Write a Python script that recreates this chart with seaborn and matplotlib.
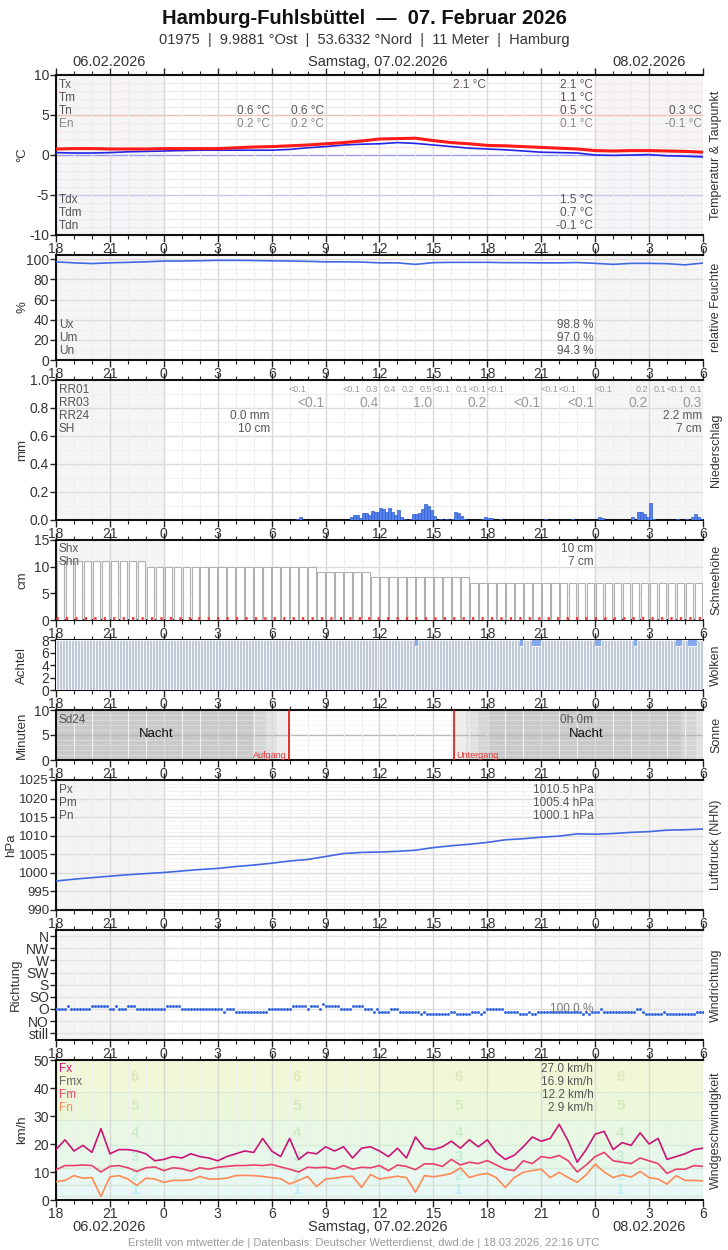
import matplotlib
matplotlib.use("Agg")
import matplotlib.pyplot as plt
import seaborn as sns

sns.set_theme(style="white")
NARROW = ['Liberation Sans Narrow', 'Liberation Sans', 'DejaVu Sans']
REGULAR = ['Liberation Sans', 'DejaVu Sans']
plt.rcParams['font.family'] = NARROW
plt.rcParams['axes.unicode_minus'] = False

# ---------------- data (x = hours since 06.02.2026 18:00 UTC) ----------------
uhr_labels = ['18', '21', '0', '3', '6', '9', '12', '15', '18', '21', '0', '3', '6']
stunden = list(range(37))
halbstunden = [h / 2 for h in range(73)]

temperatur = [0.75, 0.8, 0.8, 0.75, 0.75, 0.75, 0.8, 0.8, 0.8, 0.8, 0.9, 1.0, 1.05,
              1.15, 1.25, 1.4, 1.55, 1.75, 2.0, 2.05, 2.1, 1.8, 1.55, 1.4, 1.2,
              1.15, 1.05, 0.95, 0.85, 0.75, 0.55, 0.5, 0.55, 0.55, 0.5, 0.45, 0.35]
taupunkt = [0.3, 0.25, 0.25, 0.3, 0.4, 0.45, 0.5, 0.55, 0.6, 0.6, 0.6, 0.6, 0.6,
            0.7, 0.9, 1.05, 1.25, 1.35, 1.4, 1.55, 1.45, 1.25, 1.05, 0.85, 0.75,
            0.65, 0.5, 0.35, 0.3, 0.25, 0.0, -0.05, 0.0, 0.05, -0.1, -0.15, -0.25]
feuchte = [97.5, 96.5, 95.8, 96.5, 97.0, 97.5, 98.3, 98.3, 98.6, 99.0, 99.0, 98.8,
           98.5, 98.3, 98.0, 97.5, 97.5, 97.3, 96.5, 96.5, 95.0, 96.7, 97.0, 97.0,
           97.0, 96.7, 96.7, 96.5, 96.5, 96.8, 96.0, 95.0, 96.0, 96.0, 95.7, 94.5, 96.3]

# precipitation, 10-minute slots
rr_slot = [80, 81, 98, 99, 100, 101, 102, 103, 104, 105, 106, 107, 108, 109, 110,
           111, 112, 113, 114, 115, 116, 118, 119, 120, 121, 122, 123, 124, 125,
           126, 128, 130, 132, 133, 134, 135, 136, 142, 143, 144, 145, 148, 163,
           172, 181, 182, 192, 194, 195, 196, 197, 198, 199, 207, 210, 212, 213,
           214, 215]
rr_mm = [0.01, 0.02, 0.024, 0.033, 0.033, 0.012, 0.047, 0.052, 0.036, 0.064, 0.055,
         0.06, 0.083, 0.076, 0.06, 0.083, 0.055, 0.036, 0.07, 0.024, 0.01, 0.008,
         0.043, 0.043, 0.052, 0.078, 0.114, 0.1, 0.07, 0.028, 0.01, 0.01, 0.01,
         0.06, 0.05, 0.03, 0.01, 0.01, 0.024, 0.015, 0.012, 0.01, 0.01, 0.01,
         0.024, 0.012, 0.02, 0.06, 0.06, 0.043, 0.024, 0.124, 0.01, 0.01, 0.01,
         0.02, 0.04, 0.024, 0.01]
rr01_stunde = [14, 17, 18, 19, 20, 21, 22, 23, 24, 25, 28, 29, 31, 33, 34, 35, 36]
rr01_text = ['<0.1', '<0.1', '0.3', '0.4', '0.2', '0.5', '<0.1', '0.1', '<0.1', '<0.1',
             '<0.1', '<0.1', '<0.1', '0.2', '0.1', '<0.1', '0.1']
rr03_stunde = [15, 18, 21, 24, 27, 30, 33, 36]
rr03_text = ['<0.1', '0.4', '1.0', '0.2', '<0.1', '<0.1', '0.2', '0.3']

# snow depth, half-hour slots
schnee = [11] * 10 + [10] * 19 + [9] * 6 + [8] * 11 + [7] * 26

# cloud cover, 10-minute slots (octas)
wolken = [8] * 216
wolken_7_slots = [120, 155, 159, 160, 161, 180, 181, 193, 207, 208, 211, 212, 213]

# sun
aufgang = 12.97
untergang = 22.15
morgen_grenzen = [10.97, 11.66, 12.30, 12.97]
abend_grenzen = [22.15, 22.84, 23.48, 24.13]
morgen2_grenzen = [34.79, 35.60]

druck = [997.8, 998.3, 998.7, 999.1, 999.5, 999.8, 1000.1, 1000.5, 1000.9, 1001.2,
         1001.7, 1002.1, 1002.6, 1003.2, 1003.6, 1004.4, 1005.2, 1005.5, 1005.6,
         1005.8, 1006.1, 1006.8, 1007.3, 1007.7, 1008.2, 1008.9, 1009.2, 1009.6,
         1009.9, 1010.5, 1010.4, 1010.6, 1010.9, 1011.1, 1011.5, 1011.6, 1011.8]

# wind direction in degrees, 10-minute slots
richtung = ([90] * 4 + [100] + [90] * 7 + [100] * 6 + [90] * 2 + [100] + [90] * 3 +
            [100] * 3 + [90] * 10 + [100] * 5 + [90] * 14 + [80] + [90] * 3 +
            [80] * 11 + [90] * 8 + [100] * 5 + [90] + [100] * 3 + [90] + [110] +
            [100] * 5 + [90] * 4 + [100] * 4 + [90] * 3 + [80] + [90] + [80] * 4 +
            [90] * 3 + [80] * 7 + [70] + [80] + [70] * 8 + [80] * 2 + [70] * 5 +
            [80] * 3 + [70] + [80] + [90] * 6 + [80] * 5 + [70] * 3 + [80] +
            [70] * 2 + [80] * 15 + [70] + [80] + [70] + [80] * 3 + [90] + [80] * 11 +
            [90] * 2 + [80] + [70] * 6 + [80] + [70] * 10 + [80] * 3)
richtung_labels = ['still', 'NO', 'O', 'SO', 'S', 'SW', 'W', 'NW', 'N']

# wind speed (km/h), half-hour values
boeen = [18.0, 21.5, 17.5, 19.5, 17.0, 25.5, 16.5, 18.0, 18.0, 17.5,
         16.5, 14.0, 14.5, 15.5, 15.0, 16.5, 15.5, 15.0, 14.0, 15.5,
         16.5, 17.5, 17.0, 22.0, 17.5, 15.5, 22.0, 14.5, 17.0, 16.5,
         19.0, 17.5, 19.0, 15.0, 18.5, 19.0, 17.5, 15.5, 18.5, 15.0,
         22.5, 18.5, 18.0, 19.0, 21.0, 18.5, 21.5, 19.0, 21.5, 17.0,
         14.5, 16.0, 19.0, 22.5, 21.0, 22.0, 27.0, 21.0, 13.5, 18.0,
         23.5, 24.5, 18.0, 20.5, 19.5, 24.0, 20.0, 22.0, 14.5, 15.5,
         16.5, 18.0, 18.5]
wind_mittel = [10.8, 12.3, 12.3, 12.5, 12.3, 10.0, 12.0, 12.3, 11.5, 10.2,
               11.5, 11.8, 10.5, 11.5, 11.2, 10.3, 11.5, 11.0, 11.7, 12.0,
               12.3, 12.3, 12.5, 12.3, 12.7, 11.8, 11.0, 10.0, 11.7, 11.5,
               11.7, 11.0, 12.3, 11.0, 11.7, 11.5, 12.3, 10.5, 12.5, 12.0,
               10.8, 12.9, 12.9, 12.0, 14.5, 12.5, 13.5, 13.0, 14.1, 12.5,
               11.0, 10.5, 14.0, 13.0, 15.5, 15.0, 15.9, 14.0, 10.0, 12.5,
               15.5, 17.0, 14.0, 13.5, 13.0, 15.0, 14.0, 13.0, 9.5, 11.0,
               11.0, 12.3, 12.0]
wind_min = [6.5, 7.0, 8.7, 7.8, 8.0, 1.3, 8.3, 8.7, 7.5, 5.2,
            7.8, 7.5, 6.3, 7.0, 7.0, 7.2, 8.4, 7.5, 7.5, 7.8,
            8.7, 8.8, 8.7, 8.4, 8.0, 7.6, 5.7, 7.0, 8.4, 4.8,
            7.5, 7.8, 8.3, 8.5, 4.5, 9.1, 7.5, 8.0, 8.5, 8.0,
            2.8, 8.7, 8.3, 8.8, 9.5, 11.5, 8.0, 9.0, 9.5, 8.0,
            4.5, 8.0, 9.9, 10.5, 11.0, 8.0, 9.9, 8.0, 6.3, 9.0,
            12.8, 10.0, 8.0, 9.0, 8.2, 10.2, 8.0, 7.5, 5.7, 8.7,
            7.0, 7.0, 6.8]
bft_grenzen = [0, 1.5, 5.5, 11.5, 19.5, 28.5, 38.5, 50]
bft_farben = ['#eefafa', '#e8f8f8', '#e6f8f1', '#e7f8ea', '#e8f8e2', '#ecf7da', '#f1f8d8']
bft_zahl_farben = ['#bfeef2', '#c4ede8', '#c6ecd6', '#cdebc8', '#d6e8bd', '#dde8bd']

# ---------------- layout ----------------
W, H = 728, 1250
L, R = 56, 703
fig = plt.figure(figsize=(W / 100, H / 100), dpi=100)


def panel(top, bottom, night=True):
    ax = fig.add_axes([L / W, 1 - bottom / H, (R - L) / W, (bottom - top) / H])
    ax.set_xlim(0, 36)
    ax.set_xticks(range(0, 37, 3))
    ax.set_xticklabels(uhr_labels)
    ax.set_xticks(range(37), minor=True)
    ax.tick_params(axis='x', which='both', direction='out', top=True, bottom=True,
                   labeltop=False, color='#222', labelcolor='#333', labelsize=10, pad=0)
    ax.tick_params(axis='x', which='major', length=5, width=1)
    ax.tick_params(axis='x', which='minor', length=3, width=0.8)
    ax.tick_params(axis='y', which='major', direction='out', left=True, length=4,
                   width=1, color='#222', labelcolor='#333', labelsize=10, pad=1)
    ax.tick_params(axis='y', which='minor', left=False, length=0)
    for s in ['top', 'bottom', 'left']:
        ax.spines[s].set_color('#111')
        ax.spines[s].set_linewidth(1.5)
    ax.spines['right'].set_visible(False)
    ax.set_axisbelow(True)
    ax.grid(which='major', axis='x', color='#d9d9d9', lw=1, zorder=0.5)
    ax.grid(which='minor', axis='x', color='#efefef', lw=0.8, zorder=0.5)
    if night:
        ax.axvspan(0, 6, color='#f5f5f5', zorder=0.1, lw=0)
        ax.axvspan(30, 36, color='#f5f5f5', zorder=0.1, lw=0)
    cy = 1 - (top + bottom) / 2 / H
    return ax, cy, bottom - top


def side_labels(cy, left, right, lx=22):
    fig.text(lx / W, cy, left, rotation=90, ha='center', va='center',
             fontsize=9.5, color='#333', family=REGULAR)
    fig.text(716 / W, cy, right, rotation=90, ha='center', va='center',
             fontsize=9, color='#333', family=REGULAR)


def stat(ax, ph, x, dy, text, color='#555', ha='right', size=8.5):
    ax.text(x, 1 - dy / ph, text, transform=ax.get_xaxis_transform(), ha=ha,
            va='center', fontsize=size, color=color, zorder=6)


def hgrid(ax, major, minor=None, cmaj='#dcdcdc', cmin='#f0f0f0', amin=1.0):
    if minor is not None:
        for y in minor:
            ax.axhline(y, color=cmin, lw=0.8, zorder=0.4, alpha=amin)
    for y in major:
        ax.axhline(y, color=cmaj, lw=1, zorder=0.5)


# titles
fig.text(0.5, 1 - 18 / H, 'Hamburg-Fuhlsbüttel  —  07. Februar 2026', ha='center',
         va='center', fontsize=14.5, fontweight='bold', color='#111')
fig.text(0.5, 1 - 40 / H, '01975  |  9.9881 °Ost  |  53.6332 °Nord  |  11 Meter  |  Hamburg',
         ha='center', va='center', fontsize=10.5, color='#333')
for yy in [62, 1227]:
    fig.text(109 / W, 1 - yy / H, '06.02.2026', ha='center', va='center', fontsize=10.5, color='#333')
    fig.text(378 / W, 1 - yy / H, 'Samstag, 07.02.2026', ha='center', va='center', fontsize=10.5, color='#333')
    fig.text(649 / W, 1 - yy / H, '08.02.2026', ha='center', va='center', fontsize=10.5, color='#333')
fig.text(0.5, 1 - 1243 / H, 'Erstellt von mtwetter.de | Datenbasis: Deutscher Wetterdienst, '
         'dwd.de | 18.03.2026, 22:16 UTC', ha='center', va='center', fontsize=8, color='#999')

# 1 temperature
ax, cy, ph = panel(75, 235)
ax.set_ylim(-10, 10)
ax.set_yticks([-10, -5, 0, 5, 10])
for y in range(-10, 11):
    if y in (-5, 5):
        c = '#f3bcbc' if y > 0 else '#c4c4f2'
    elif y == 0:
        c = '#9a9aee'
    else:
        c = '#fbe6e6' if y > 0 else '#e8e8fb'
    ax.axhline(y, color=c, lw=1 if y % 5 == 0 else 0.8, zorder=0.5)
sns.lineplot(x=stunden, y=taupunkt, ax=ax, color='#2424e6', lw=1.2, zorder=3)
sns.lineplot(x=stunden, y=temperatur, ax=ax, color='#ff1a1a', lw=2.2, zorder=4)
for dy, lab in zip([10, 23, 36, 49], ['Tx', 'Tm', 'Tn', 'En']):
    stat(ax, ph, 0.15, dy, lab, color='#888' if lab == 'En' else '#555', ha='left')
for dy, lab in zip([125, 138, 151], ['Tdx', 'Tdm', 'Tdn']):
    stat(ax, ph, 0.15, dy, lab, ha='left')
for x in [12, 15]:
    stat(ax, ph, x - 0.1, 36, '0.6 °C')
    stat(ax, ph, x - 0.1, 49, '0.2 °C', color='#888')
stat(ax, ph, 23.9, 10, '2.1 °C')
for dy, v in zip([10, 23, 36], ['2.1 °C', '1.1 °C', '0.5 °C']):
    stat(ax, ph, 29.9, dy, v)
stat(ax, ph, 29.9, 49, '0.1 °C', color='#888')
for dy, v in zip([125, 138, 151], ['1.5 °C', '0.7 °C', '-0.1 °C']):
    stat(ax, ph, 29.9, dy, v)
stat(ax, ph, 35.95, 36, '0.3 °C')
stat(ax, ph, 35.95, 49, '-0.1 °C', color='#888')
side_labels(cy, '°C', 'Temperatur & Taupunkt')

# 2 humidity
ax, cy, ph = panel(255, 360)
ax.set_ylim(0, 104.3)
ax.set_yticks(range(0, 101, 20))
hgrid(ax, range(0, 101, 20), range(10, 101, 20))
sns.lineplot(x=stunden, y=feuchte, ax=ax, color='#4169e1', lw=1.2, zorder=3)
for dy, lab, v in zip([70, 83, 96], ['Ux', 'Um', 'Un'], ['98.8 %', '97.0 %', '94.3 %']):
    stat(ax, ph, 0.15, dy, lab, ha='left')
    stat(ax, ph, 29.9, dy, v)
side_labels(cy, '%', 'relative Feuchte')

# 3 precipitation
ax, cy, ph = panel(380, 520)
ax.set_ylim(0, 1.0)
ax.set_yticks([0, 0.2, 0.4, 0.6, 0.8, 1.0])
ax.set_yticklabels(['0.0', '0.2', '0.4', '0.6', '0.8', '1.0'])
hgrid(ax, [0.2, 0.4, 0.6, 0.8], [0.1, 0.3, 0.5, 0.7, 0.9])
ax.bar([s / 6 for s in rr_slot], rr_mm, width=1 / 6, align='edge', color='#5582ea',
       edgecolor='#2f5bd0', lw=0.5, zorder=3)
for dy, lab in zip([10, 23, 36, 49], ['RR01', 'RR03', 'RR24', 'SH']):
    stat(ax, ph, 0.15, dy, lab, ha='left')
for x, t in zip(rr01_stunde, rr01_text):
    stat(ax, ph, x - 0.05, 10, t, color='#999', size=6.5)
for x, t in zip(rr03_stunde, rr03_text):
    stat(ax, ph, x - 0.05, 23, t, color='#999', size=10)
stat(ax, ph, 11.9, 36, '0.0 mm')
stat(ax, ph, 11.9, 49, '10 cm')
stat(ax, ph, 35.95, 36, '2.2 mm')
stat(ax, ph, 35.95, 49, '7 cm')
side_labels(cy, 'mm', 'Niederschlag')

# 4 snow depth
ax, cy, ph = panel(540, 620)
ax.set_ylim(0, 15)
ax.set_yticks([0, 5, 10, 15])
hgrid(ax, [5, 10])
ax.bar([h + 0.25 for h in halbstunden[:72]], schnee, width=0.42, color='white',
       edgecolor='#b0b0b0', lw=0.8, zorder=3)
ax.axhline(0.45, color='#ff3030', lw=2, ls=(0, (0.8, 2.6)), zorder=4)
stat(ax, ph, 0.15, 9, 'Shx', ha='left')
stat(ax, ph, 0.15, 22, 'Shn', ha='left')
stat(ax, ph, 29.9, 9, '10 cm')
stat(ax, ph, 29.9, 22, '7 cm')
side_labels(cy, 'cm', 'Schneehöhe')

# 5 clouds
ax, cy, ph = panel(640, 690, night=False)
ax.set_ylim(0, 8)
ax.set_yticks([0, 2, 4, 6, 8])
werte = [7 if i in wolken_7_slots else w for i, w in enumerate(wolken)]
ax.bar([i / 6 for i in range(216)], werte, width=1 / 6, align='edge', color='#bec6d4',
       edgecolor='#f3f5fa', lw=0.8, zorder=3)
ax.bar([i / 6 for i in wolken_7_slots], [8 - werte[i] for i in wolken_7_slots],
       bottom=[werte[i] for i in wolken_7_slots], width=1 / 6, align='edge',
       color='#86a8ee', lw=0, zorder=3)
side_labels(cy, 'Achtel', 'Wolken')

# 6 sun
ax, cy, ph = panel(710, 760, night=False)
ax.set_ylim(0, 10)
ax.set_yticks([0, 5, 10])
grau = ['#c9c9c9', '#d5d5d5', '#e1e1e1', '#eeeeee']
ax.axvspan(0, morgen_grenzen[0], color=grau[0], lw=0, zorder=0.1)
for i in range(3):
    ax.axvspan(morgen_grenzen[i], morgen_grenzen[i + 1], color=grau[i + 1], lw=0, zorder=0.1)
    ax.axvspan(abend_grenzen[i], abend_grenzen[i + 1], color=grau[3 - i], lw=0, zorder=0.1)
ax.axvspan(abend_grenzen[3], morgen2_grenzen[0], color=grau[0], lw=0, zorder=0.1)
ax.axvspan(morgen2_grenzen[0], morgen2_grenzen[1], color=grau[1], lw=0, zorder=0.1)
ax.axvspan(morgen2_grenzen[1], 36, color=grau[2], lw=0, zorder=0.1)
hgrid(ax, [5], [1, 2, 3, 4, 6, 7, 8, 9], cmaj='#b8b8b8', cmin='#eeeeee', amin=0.45)
ax.axvline(aufgang, color='#e01010', lw=1.2, zorder=4)
ax.axvline(untergang, color='#e01010', lw=1.2, zorder=4)
ax.text(aufgang - 0.1, 0.9, 'Aufgang', ha='right', va='center', fontsize=6.5, color='#e83030', zorder=5)
ax.text(untergang + 0.1, 0.9, 'Untergang', ha='left', va='center', fontsize=6.5, color='#e83030', zorder=5)
ax.text(5.6, 5.2, 'Nacht', ha='center', va='center', fontsize=9.5, color='#111', zorder=5)
ax.text(29.5, 5.2, 'Nacht', ha='center', va='center', fontsize=9.5, color='#111', zorder=5)
stat(ax, ph, 0.15, 10, 'Sd24', ha='left')
stat(ax, ph, 29.9, 10, '0h 0m')
side_labels(cy, 'Minuten', 'Sonne')

# 7 pressure
ax, cy, ph = panel(780, 910)
ax.set_ylim(990, 1025)
ax.set_yticks(range(990, 1026, 5))
ax.tick_params(axis='y', labelsize=9.5)
hgrid(ax, range(995, 1025, 5), range(991, 1025), cmin='#f2f2f2')
sns.lineplot(x=stunden, y=druck, ax=ax, color='#4169e1', lw=1.2, zorder=3)
for dy, lab, v in zip([10, 23, 36], ['Px', 'Pm', 'Pn'], ['1010.5 hPa', '1005.4 hPa', '1000.1 hPa']):
    stat(ax, ph, 0.15, dy, lab, ha='left')
    stat(ax, ph, 29.9, dy, v)
side_labels(cy, 'hPa', 'Luftdruck (NHN)', lx=11)

# 8 wind direction
ax, cy, ph = panel(930, 1040)
ax.set_ylim(-25, 382.5)
ax.set_yticks(range(0, 361, 45))
ax.set_yticklabels(richtung_labels)
hgrid(ax, range(0, 361, 45), cmaj='#e3e3e3')
sns.scatterplot(x=[i / 6 for i in range(len(richtung))], y=richtung, ax=ax, color='#3366dd',
                s=4.5, linewidth=0, zorder=3)
stat(ax, ph, 29.9, 79, '100.0 %', color='#777')
side_labels(cy, 'Richtung', 'Windrichtung', lx=16)

# 9 wind speed
ax, cy, ph = panel(1060, 1200, night=False)
ax.set_ylim(0, 50)
ax.set_yticks(range(0, 51, 10))
for i in range(7):
    ax.axhspan(bft_grenzen[i], bft_grenzen[i + 1], color=bft_farben[i], lw=0, zorder=0.1)
for y in bft_grenzen[1:-1]:
    ax.axhline(y, color='#d6ead8', lw=1, zorder=0.5)
for x in [4.4, 13.4, 22.4, 31.4]:
    for b, y in enumerate([3.5, 8.5, 15.5, 24, 33.5, 44]):
        ax.text(x, y, str(b + 1), ha='center', va='center', fontsize=11, fontweight='bold',
                color=bft_zahl_farben[b], zorder=1)
sns.lineplot(x=halbstunden, y=wind_min, ax=ax, color='#ff8a55', lw=1.2, zorder=3)
sns.lineplot(x=halbstunden, y=wind_mittel, ax=ax, color='#e8406a', lw=1.2, zorder=3)
sns.lineplot(x=halbstunden, y=boeen, ax=ax, color='#cc1477', lw=1.2, zorder=4)
for dy, lab, c, v in zip([9, 22, 35, 48], ['Fx', 'Fmx', 'Fm', 'Fn'],
                         ['#d8197a', '#666', '#e8456a', '#ff8a55'],
                         ['27.0 km/h', '16.9 km/h', '12.2 km/h', '2.9 km/h']):
    stat(ax, ph, 0.15, dy, lab, color=c, ha='left')
    stat(ax, ph, 29.9, dy, v)
side_labels(cy, 'km/h', 'Windgeschwindigkeit')

fig.savefig('out.png', dpi=100)
